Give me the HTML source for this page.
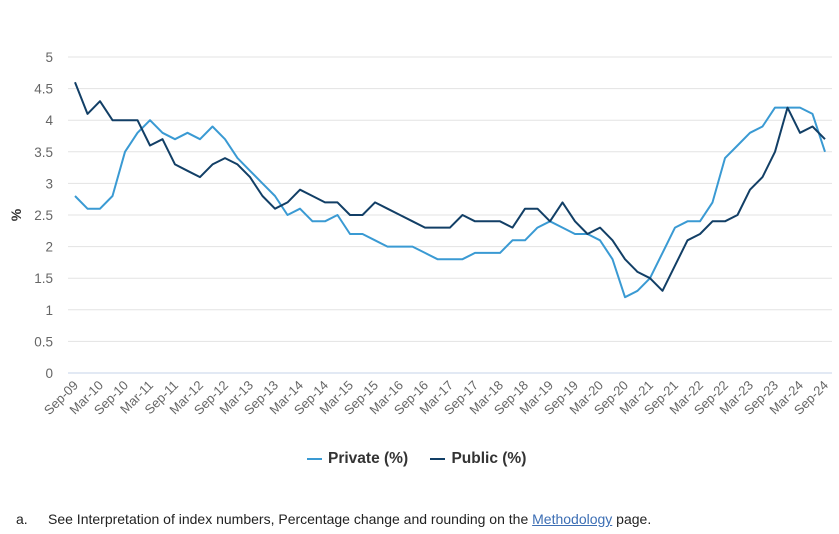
<!DOCTYPE html>
<html><head><meta charset="utf-8"><style>
body{margin:0;background:#fff;width:839px;height:534px;overflow:hidden;font-family:"Liberation Sans",sans-serif;}
svg{position:absolute;left:0;top:0}
</style></head><body>
<svg width="839" height="534" id="chart"></svg>
<script>
const categories=[];(function(){const m=['Sep','Dec','Mar','Jun'];for(let i=0;i<61;i++){const mo=m[i%4];const yr=9+Math.floor((i+2)/4);categories.push(mo+'-'+String(yr).padStart(2,'0'));}})();
const privateVals=[2.8,2.6,2.6,2.8,3.5,3.8,4.0,3.8,3.7,3.8,3.7,3.9,3.7,3.4,3.2,3.0,2.8,2.5,2.6,2.4,2.4,2.5,2.2,2.2,2.1,2.0,2.0,2.0,1.9,1.8,1.8,1.8,1.9,1.9,1.9,2.1,2.1,2.3,2.4,2.3,2.2,2.2,2.1,1.8,1.2,1.3,1.5,1.9,2.3,2.4,2.4,2.7,3.4,3.6,3.8,3.9,4.2,4.2,4.2,4.1,3.5];
const publicVals=[4.6,4.1,4.3,4.0,4.0,4.0,3.6,3.7,3.3,3.2,3.1,3.3,3.4,3.3,3.1,2.8,2.6,2.7,2.9,2.8,2.7,2.7,2.5,2.5,2.7,2.6,2.5,2.4,2.3,2.3,2.3,2.5,2.4,2.4,2.4,2.3,2.6,2.6,2.4,2.7,2.4,2.2,2.3,2.1,1.8,1.6,1.5,1.3,1.7,2.1,2.2,2.4,2.4,2.5,2.9,3.1,3.5,4.2,3.8,3.9,3.7];
const yTicks=[0,0.5,1,1.5,2,2.5,3,3.5,4,4.5,5];
const yTickLabels=['0','0.5','1','1.5','2','2.5','3','3.5','4','4.5','5'];
const svg=document.getElementById('chart');const NS='http://www.w3.org/2000/svg';
const x=i=>75+i*(750/(categories.length-1));
const y=v=>373-v*63.2;
function mk(t,a,p){const e=document.createElementNS(NS,t);for(const k in a)e.setAttribute(k,a[k]);(p||svg).appendChild(e);return e;}
yTicks.forEach((v,i)=>{
 const l=mk('line',{x1:68,x2:832,y1:y(v),y2:y(v),stroke:v===0?'#c5d3e8':'#e3e3e3','stroke-width':1});
 
 
 const t=mk('text',{x:53,y:y(v)+5,'text-anchor':'end','font-size':13.5,fill:'#666'});t.textContent=yTickLabels[i];
 
 
});
const yt=mk('text',{transform:'translate(21,215) rotate(-90)','text-anchor':'middle','font-size':14,'font-weight':'bold',fill:'#333'});yt.textContent='%';


categories.forEach((c,i)=>{if(i%2)return;
 const t=mk('text',{transform:`translate(${x(i)+4},${386}) rotate(-45)`,'text-anchor':'end','font-size':13,fill:'#666'});t.textContent=c;
 
 
});
function series(vals,col,name){const p=mk('path',{d:vals.map((v,i)=>(i?'L':'M')+x(i).toFixed(1)+','+y(v).toFixed(1)).join(''),fill:'none',stroke:col,'stroke-width':2,'stroke-linejoin':'round'});
 
 }
series(privateVals,'#3a9ad3','private-series-line');
series(publicVals,'#123f66','public-series-line');
</script>
<div style="position:absolute;top:450px;left:307px;font-size:15.5px;font-weight:bold;color:#333;white-space:nowrap">
 <span><span style="display:inline-block;width:15px;height:2px;background:#3a9ad3;vertical-align:middle;margin-right:6px"></span>Private (%)</span>
 <span style="margin-left:18px"><span style="display:inline-block;width:15px;height:2px;background:#123f66;vertical-align:middle;margin-right:6px"></span>Public (%)</span>
</div>
<div style="position:absolute;top:511px;left:16px;font-size:14px;color:#222;white-space:nowrap">a.<span style="position:absolute;left:32px">See Interpretation of index numbers, Percentage change and rounding on the <a style="color:#3c6eb4;text-decoration:underline">Methodology</a> page.</span></div>
</body></html>
